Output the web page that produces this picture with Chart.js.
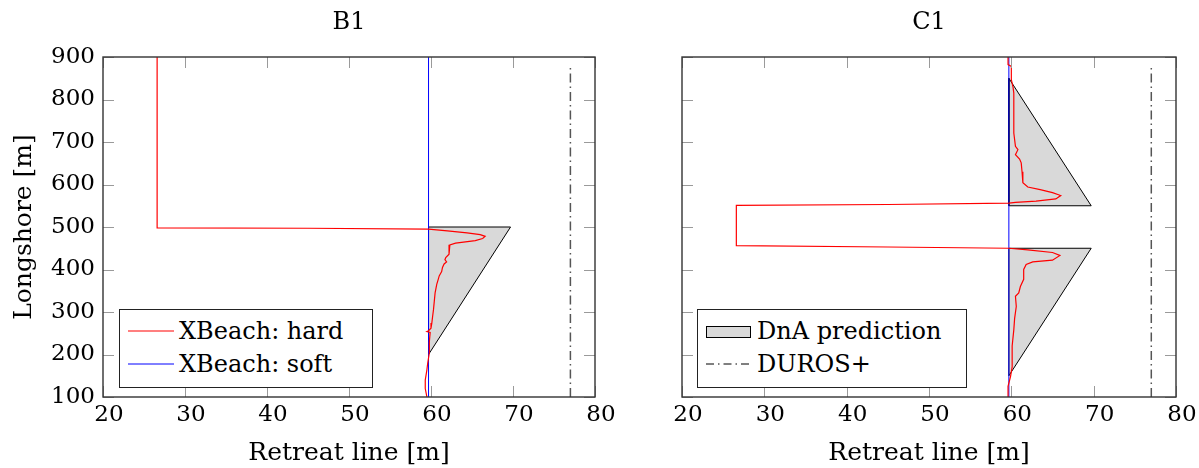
<!DOCTYPE html>
<html>
<head>
<meta charset="utf-8">
<script src="https://cdn.jsdelivr.net/npm/chart.js@4.4.1/dist/chart.umd.min.js"></script>
<style>
  body { margin: 0; background: #fff; width: 1199px; height: 468px; position: relative; overflow: hidden; font-family: "DejaVu Serif", serif; }
  canvas { position: absolute; top: 0; }
  #cvB1 { left: 0; }
  #cvC1 { left: 600px; }
  .legend { position: absolute; top: 309px; height: 77px; border: 1px solid #222; background: #fff; font-size: 24px; color: #000; }
  .row { position: absolute; left: 59px; height: 32px; line-height: 32px; white-space: nowrap; }
  .swatch { position: absolute; }
</style>
</head>
<body>
<canvas id="cvB1" width="625" height="468"></canvas>
<canvas id="cvC1" width="599" height="468"></canvas>

<div class="legend" style="left:119px; width:252px;">
  <svg class="swatch" style="left:8px; top:17px;" width="46" height="8"><line x1="0" y1="4" x2="46" y2="4" stroke="#ff0000" stroke-width="1.2"/></svg>
  <div class="row" style="top:5px;">XBeach: hard</div>
  <svg class="swatch" style="left:8px; top:50px;" width="46" height="8"><line x1="0" y1="4" x2="46" y2="4" stroke="#0000ff" stroke-width="1"/></svg>
  <div class="row" style="top:38px;">XBeach: soft</div>
</div>

<div class="legend" style="left:697px; width:268px;">
  <div class="swatch" style="left:8px; top:16px; width:45px; height:12px; background:#d9d9d9; border:1px solid #000; box-sizing:border-box;"></div>
  <div class="row" style="left:59px; top:5px;">DnA prediction</div>
  <svg class="swatch" style="left:8px; top:50px;" width="46" height="8"><line x1="0" y1="4" x2="46" y2="4" stroke="#000" stroke-width="1" stroke-dasharray="8,4,1.5,4"/></svg>
  <div class="row" style="left:59px; top:38px;">DUROS+</div>
</div>

<script>
// axis ticks
const retreatTicks = [20, 30, 40, 50, 60, 70, 80];
const longshoreTicks = [100, 200, 300, 400, 500, 600, 700, 800, 900];

// B1 - XBeach hard (red)
const b1HardRetreat = [26.6, 26.6, 45, 59.7, 62, 64.4, 66, 66.6, 66.3, 65.4, 64.2, 63, 62.3, 62.2, 62.2, 61.8, 61.7, 61.9, 61.6, 61.4, 61.3, 61, 60.9, 60.7, 60.5, 60.4, 60.3, 60.2, 60.1, 60, 59.7, 59.5, 59.9, 59.8, 59.8, 59.6, 59.5, 59.3, 59.3, 59.5];
const b1HardLongshore = [900, 498, 497, 495, 491, 486, 482, 478, 473, 468, 465, 462, 458, 450, 436, 428, 423, 418, 413, 405, 395, 385, 378, 365, 345, 325, 305, 290, 274, 262, 256, 254, 252, 230, 204, 180, 164, 140, 120, 100];

// C1 - XBeach hard (red)
const c1HardRetreat = [59.6, 59.6, 60, 60, 60.2, 60.3, 60.3, 60.3, 60.5, 60.8, 60.5, 61, 61.2, 61.3, 61.4, 62, 63.5, 65, 66, 65.4, 63, 60.5, 59.7, 45, 26.6, 26.6, 45, 59.7, 62, 65, 65.9, 65, 62.6, 61.8, 61.5, 61.5, 61.1, 60.9, 60.5, 60.6, 60.4, 60.3, 60.1, 60.1, 60.1, 59.9, 59.6, 59.6];
const c1HardLongshore = [900, 882, 878, 847, 830, 815, 760, 721, 690, 682, 670, 660, 651, 630, 604, 594, 588, 581, 574, 566, 561, 558, 556, 553, 551, 456, 453, 450, 446, 440, 433, 422, 418, 412, 400, 377, 360, 345, 337, 313, 285, 258, 220, 195, 171, 148, 125, 100];

// XBeach soft (blue), same for both
const softRetreat = [59.7, 59.7];
const softLongshore = [100, 900];

// DUROS+ (dash-dot)
const durosRetreat = [77, 77];
const durosLongshore = [100, 880];

// DnA prediction triangles
const b1DnaRetreat = [59.7, 69.7, 59.7, 59.7];
const b1DnaLongshore = [500, 500, 200, 500];
const c1DnaUpperRetreat = [59.7, 69.7, 59.7, 59.7];
const c1DnaUpperLongshore = [550, 550, 850, 550];
const c1DnaLowerRetreat = [59.7, 69.7, 59.7, 59.7];
const c1DnaLowerLongshore = [450, 450, 150, 450];

const FONT = "'DejaVu Serif', serif";

const pts = (xs, ys) => xs.map((x, i) => ({ x: x, y: ys[i] }));

const lineDs = (label, xs, ys, color, width, extra) => Object.assign({
  label: label,
  data: pts(xs, ys),
  showLine: true,
  borderColor: color,
  borderWidth: width,
  pointRadius: 0,
  tension: 0,
  fill: false
}, extra || {});

const dnaDs = (xs, ys) => lineDs('DnA prediction', xs, ys, '#000', 1, {
  fill: 'shape',
  backgroundColor: '#d9d9d9'
});

// inward ticks on all four sides plus the box
const framePlugin = {
  id: 'frame',
  afterDraw(chart) {
    const { ctx, chartArea: a, scales } = chart;
    const x = scales.x, y = scales.y;
    const len = 11;
    ctx.save();
    ctx.strokeStyle = '#9a9a9a';
    ctx.lineWidth = 1;
    ctx.beginPath();
    x.ticks.forEach(t => {
      const px = Math.round(x.getPixelForValue(t.value)) + 0.5;
      ctx.moveTo(px, a.bottom); ctx.lineTo(px, a.bottom - len);
      ctx.moveTo(px, a.top); ctx.lineTo(px, a.top + len);
    });
    y.ticks.forEach(t => {
      const py = Math.round(y.getPixelForValue(t.value)) + 0.5;
      ctx.moveTo(a.left, py); ctx.lineTo(a.left + len, py);
      ctx.moveTo(a.right, py); ctx.lineTo(a.right - len, py);
    });
    ctx.stroke();
    ctx.strokeStyle = '#333';
    ctx.lineWidth = 1.4;
    ctx.strokeRect(a.left, a.top, a.right - a.left, a.bottom - a.top);
    ctx.restore();
  }
};

function makeOptions(title, showY, yWidth, padRight) {
  return {
    responsive: false,
    animation: false,
    layout: { padding: { left: 0, right: padRight, top: 0, bottom: 0 } },
    plugins: {
      legend: { display: false },
      tooltip: { enabled: false },
      title: { display: false }
    },
    scales: {
      x: {
        type: 'linear',
        min: 20,
        max: 80,
        afterBuildTicks: s => { s.ticks = retreatTicks.map(v => ({ value: v })); },
        afterFit: s => { s.height = 71; s.paddingLeft = 0; s.paddingRight = 0; },
        grid: { display: false, drawTicks: false },
        border: { display: false },
        ticks: {
          color: '#000',
          padding: 4,
          labelOffset: 6,
          maxRotation: 0,
          font: { family: FONT, size: 23 }
        },
        title: {
          display: true,
          text: 'Retreat line [m]',
          color: '#000',
          font: { family: FONT, size: 25 },
          padding: { top: 1, bottom: 0 }
        }
      },
      // top axis only carries the panel title, centred over the plot
      xTop: {
        type: 'linear',
        position: 'top',
        min: 20,
        max: 80,
        afterFit: s => { s.height = 57; s.paddingLeft = 0; s.paddingRight = 0; },
        grid: { display: false, drawTicks: false },
        border: { display: false },
        ticks: { display: false },
        title: {
          display: true,
          text: title,
          color: '#000',
          font: { family: FONT, size: 24 },
          padding: { top: 8, bottom: 0 }
        }
      },
      y: {
        type: 'linear',
        min: 100,
        max: 900,
        afterBuildTicks: s => { s.ticks = longshoreTicks.map(v => ({ value: v })); },
        afterFit: s => { s.width = yWidth; s.paddingTop = 0; s.paddingBottom = 0; },
        grid: { display: false, drawTicks: false },
        border: { display: false },
        ticks: {
          display: showY,
          color: '#000',
          padding: 8,
          font: { family: FONT, size: 23 }
        },
        title: {
          display: showY,
          text: 'Longshore [m]',
          color: '#000',
          font: { family: FONT, size: 25 },
          padding: { top: 9, bottom: 0 }
        }
      }
    }
  };
}

const durosStyle = { borderDash: [9, 4, 1.5, 4] };

new Chart(document.getElementById('cvB1'), {
  type: 'scatter',
  data: {
    datasets: [
      lineDs('XBeach: hard', b1HardRetreat, b1HardLongshore, '#ff0000', 1.2),
      lineDs('XBeach: soft', softRetreat, softLongshore, '#0000ff', 1),
      lineDs('DUROS+', durosRetreat, durosLongshore, '#555', 1.5, durosStyle),
      dnaDs(b1DnaRetreat, b1DnaLongshore)
    ]
  },
  options: makeOptions('B1', true, 103, 30),
  plugins: [framePlugin]
});

new Chart(document.getElementById('cvC1'), {
  type: 'scatter',
  data: {
    datasets: [
      lineDs('XBeach: hard', c1HardRetreat, c1HardLongshore, '#ff0000', 1.2),
      lineDs('XBeach: soft', softRetreat, softLongshore, '#0000ff', 1),
      lineDs('DUROS+', durosRetreat, durosLongshore, '#555', 1.5, durosStyle),
      dnaDs(c1DnaUpperRetreat, c1DnaUpperLongshore),
      dnaDs(c1DnaLowerRetreat, c1DnaLowerLongshore)
    ]
  },
  options: makeOptions('C1', false, 82, 23),
  plugins: [framePlugin]
});
</script>
</body>
</html>
